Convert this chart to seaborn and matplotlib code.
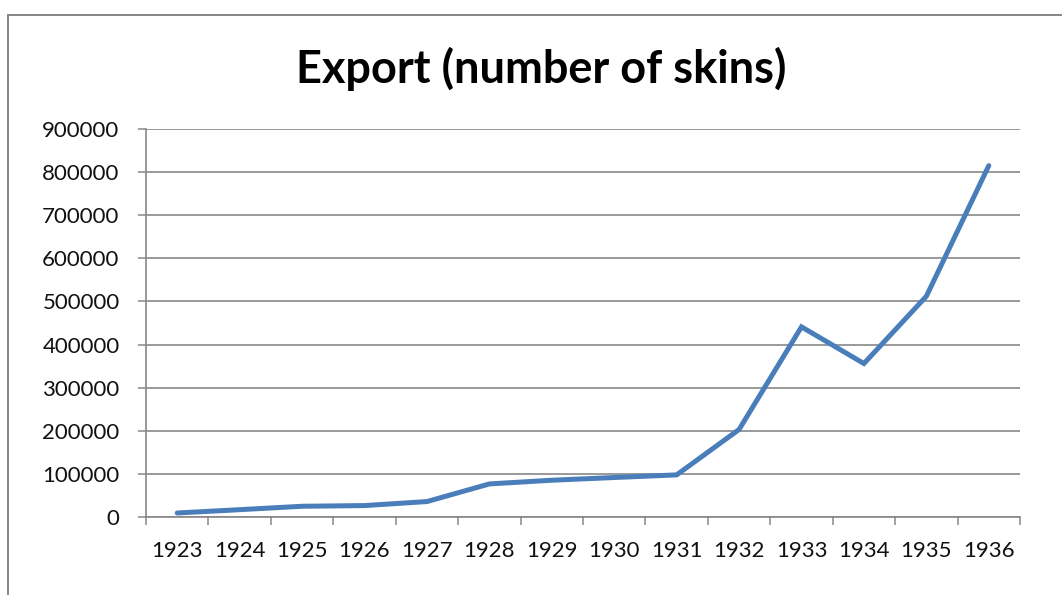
import matplotlib
matplotlib.use("Agg")
import matplotlib.pyplot as plt
import matplotlib.patches as mpatches
import seaborn as sns
import pandas as pd
import numpy as np

years = [1923, 1924, 1925, 1926, 1927, 1928, 1929, 1930, 1931, 1932, 1933, 1934, 1935, 1936]
exports = [9300, 17000, 24900, 26500, 35800, 76700, 85300, 91600, 97700, 203000, 441000, 356000, 512000, 815000]
y_ticks = [0, 100000, 200000, 300000, 400000, 500000, 600000, 700000, 800000, 900000]
title = "Export (number of skins)"

sns.set_theme(style="white")
plt.rcParams['font.family'] = ['Lato', 'DejaVu Sans']

df = pd.DataFrame({"year": years, "export": exports})

W, H = 1062, 595
fig = plt.figure(figsize=(W / 100, H / 100), dpi=100)
ax = fig.add_axes([146 / W, 1 - 517 / H, (1020 - 146) / W, (517 - 129) / H])

grid_c = "#878787"
sns.lineplot(data=df, x="year", y="export", ax=ax, color="#4A7EBB", linewidth=3.6,
             solid_capstyle="round", solid_joinstyle="miter", zorder=3)

ax.set_xlim(years[0] - 0.5, years[-1] + 0.5)
ax.set_ylim(y_ticks[0], y_ticks[-1])
ax.set_yticks(y_ticks)
ax.set_yticklabels([str(v) for v in y_ticks])

bounds = [y - 0.5 for y in years] + [years[-1] + 0.5]
ax.set_xticks(bounds)
ax.set_xticklabels([])
ax.set_xticks(years, minor=True)
ax.set_xticklabels([str(y) for y in years], minor=True)

ax.tick_params(axis="x", which="major", length=6, width=1.1, color=grid_c, direction="out", bottom=True)
ax.tick_params(axis="x", which="minor", length=0, pad=17, labelsize=16, labelcolor="#111111")
ax.tick_params(axis="y", which="major", length=6, width=1.1, color=grid_c, direction="out", left=True,
               pad=13, labelsize=16, labelcolor="#111111")

ax.yaxis.grid(True, color=grid_c, linewidth=1.2)
ax.xaxis.grid(False)
ax.set_axisbelow(True)
for s in ["top", "right"]:
    ax.spines[s].set_visible(False)
for s in ["left", "bottom"]:
    ax.spines[s].set_color(grid_c)
    ax.spines[s].set_linewidth(1.2)
ax.set_xlabel("")
ax.set_ylabel("")

fig.text(541 / W, 1 - 83 / H, title, ha="center", va="baseline", fontsize=32.5,
         fontweight="bold", color="black")

rect = mpatches.Rectangle((8 / W, -0.05), 1.1, (595 - 15) / H + 0.05, transform=fig.transFigure,
                          fill=False, edgecolor="#868686", linewidth=1.4)
fig.patches.append(rect)

fig.savefig("out.png", dpi=100)
